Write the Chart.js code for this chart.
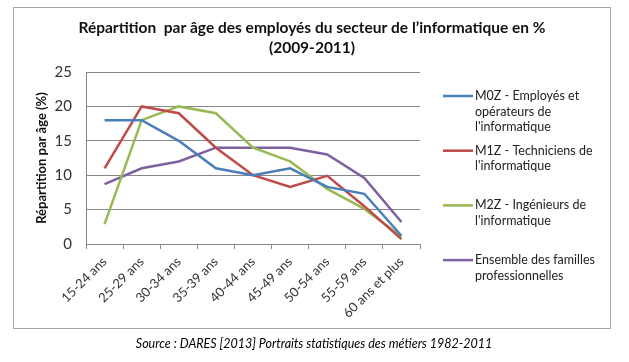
<!DOCTYPE html>
<html>
<head>
<meta charset="utf-8">
<script src="https://cdn.jsdelivr.net/npm/chart.js@4.4.1/dist/chart.umd.min.js"></script>
<style>
    html, body { margin: 0; padding: 0; background: #fff; }
</style>
</head>
<body>
<canvas id="age-chart" width="629" height="362"></canvas>
<script>
'use strict';

var ageGroups = ['15-24 ans', '25-29 ans', '30-34 ans', '35-39 ans', '40-44 ans',
    '45-49 ans', '50-54 ans', '55-59 ans', '60 ans et plus'];

var m0zValues = [18, 18, 15, 11, 10, 11, 8.3, 7.3, 1.2];
var m1zValues = [11, 20, 19, 14, 10, 8.3, 9.9, 5.5, 0.7];
var m2zValues = [2.9, 18, 20, 19, 14, 12, 8, 5.1, 1.1];
var ensembleValues = [8.7, 11, 12, 14, 14, 14, 13, 9.6, 3.2];

var seriesNames = [
    ['M0Z - Employés et', 'opérateurs de', "l'informatique"],
    ['M1Z - Techniciens de', "l'informatique"],
    ['M2Z - Ingénieurs de', "l'informatique"],
    ['Ensemble des familles', 'professionnelles']
];
var seriesColors = ['#4a7ebb', '#be4b48', '#98b954', '#7d60a0'];

var titleLines = ['Répartition  par âge des employés du secteur de l\u2019informatique en %', '(2009-2011)'];
var yAxisTitle = 'Répartition par âge (%)';
var sourceText = 'Source : DARES [2013] Portraits statistiques des métiers 1982-2011';

var FONT = 'Lato, "Open Sans", sans-serif';

// border, title, legend and source are drawn by hand, Excel style
var excelDecor = {
    id: 'excelDecor',
    afterDraw: function (chart) {
        var ctx = chart.ctx;

        ctx.save();
        ctx.strokeStyle = '#a6a6a6';
        ctx.lineWidth = 1;
        ctx.strokeRect(13.5, 7.5, 597, 321);

        ctx.fillStyle = '#111';
        ctx.textAlign = 'center';
        ctx.textBaseline = 'middle';
        ctx.font = 'bold 15.5px ' + FONT;
        titleLines.forEach(function (line, i) {
            ctx.fillText(line, 312, 28 + i * 20);
        });

        ctx.textAlign = 'left';
        ctx.font = '12.5px ' + FONT;
        chart.data.datasets.forEach(function (ds, i) {
            var y0 = 96 + i * 54.7;

            ctx.strokeStyle = ds.borderColor;
            ctx.lineWidth = 2.5;
            ctx.beginPath();
            ctx.moveTo(443, y0);
            ctx.lineTo(473, y0);
            ctx.stroke();

            ctx.fillStyle = '#222';
            seriesNames[i].forEach(function (line, k) {
                ctx.fillText(line, 475, y0 + k * 15.5);
            });
        });

        ctx.textAlign = 'center';
        ctx.fillStyle = '#000';
        ctx.font = 'italic 12.5px ' + FONT;
        ctx.fillText(sourceText, 314, 344);
        ctx.restore();
    }
};

var makeDataset = function (values, i) {
    return {
        label: seriesNames[i].join(' '),
        data: values,
        borderColor: seriesColors[i],
        backgroundColor: seriesColors[i],
        borderWidth: 2.5,
        pointRadius: 0,
        tension: 0
    };
};

var chart = new Chart(document.getElementById('age-chart'), {
    type: 'line',
    data: {
        labels: ageGroups,
        datasets: [m0zValues, m1zValues, m2zValues, ensembleValues].map(makeDataset)
    },
    options: {
        responsive: false,
        animation: false,
        devicePixelRatio: 1,
        layout: {
            padding: { left: 30, right: 209, top: 72, bottom: 38 }
        },
        plugins: {
            legend: { display: false },
            title: { display: false },
            tooltip: { enabled: false }
        },
        scales: {
            x: {
                offset: true,
                grid: {
                    offset: true,
                    drawOnChartArea: false,
                    drawTicks: true,
                    tickLength: 5,
                    color: '#868686'
                },
                border: { color: '#868686', width: 1 },
                ticks: {
                    autoSkip: false,
                    maxRotation: 45,
                    minRotation: 45,
                    padding: 5,
                    color: '#333',
                    font: { family: FONT, size: 13 }
                },
                afterFit: function (scale) {
                    scale.height = 80;
                }
            },
            y: {
                min: 0,
                max: 25,
                grid: {
                    color: '#868686',
                    drawTicks: false
                },
                border: { color: '#868686', width: 1 },
                ticks: {
                    stepSize: 5,
                    padding: 14,
                    color: '#333',
                    font: { family: FONT, size: 15 }
                },
                title: {
                    display: true,
                    text: yAxisTitle,
                    color: '#111',
                    padding: { top: 4, bottom: 0 },
                    font: { family: FONT, size: 13, weight: 'bold' }
                },
                afterFit: function (scale) {
                    scale.width = 56;
                }
            }
        }
    },
    plugins: [excelDecor]
});
</script>
</body>
</html>
